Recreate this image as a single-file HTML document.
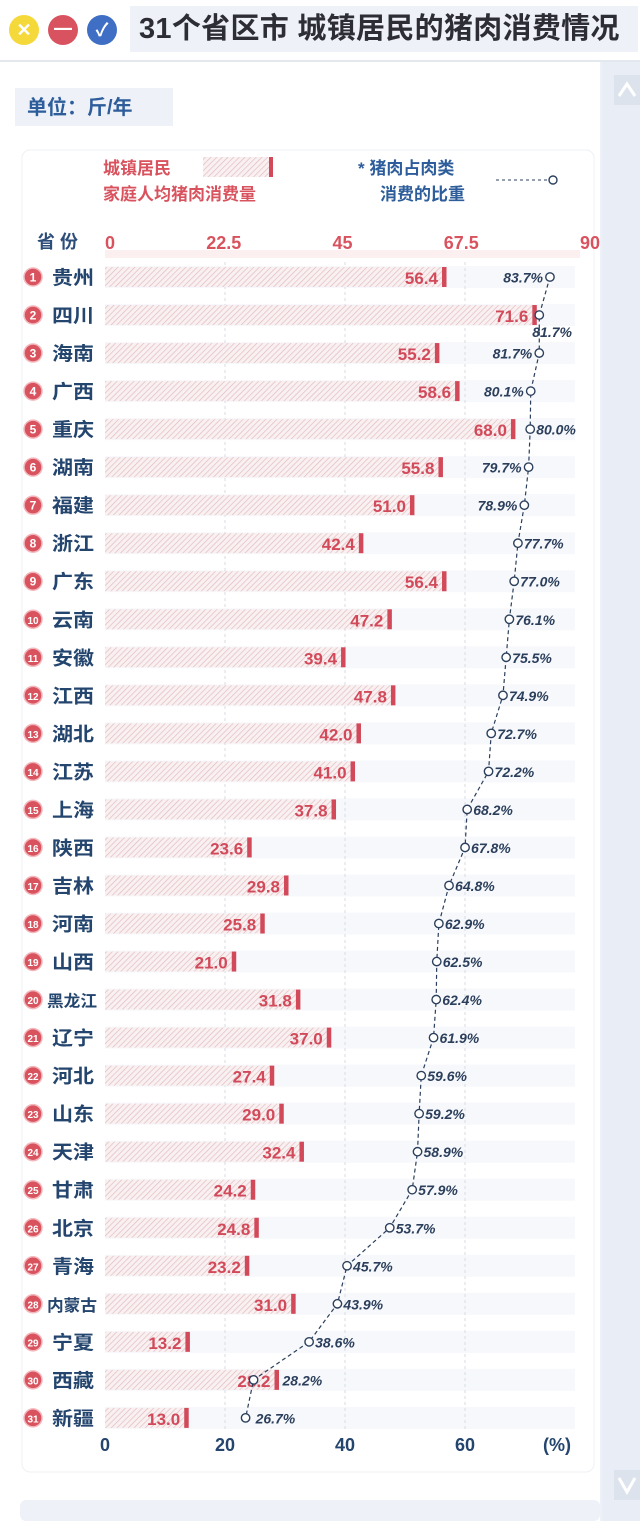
<!DOCTYPE html>
<html><head><meta charset="utf-8">
<style>
body{margin:0;width:640px;height:1521px;background:#eef2f8;font-family:"Liberation Sans","Noto Sans CJK SC",sans-serif;overflow:hidden;position:relative}
#title{position:absolute;left:0;top:0;width:640px;height:60px;background:#fff;border-bottom:2px solid #e3e7ee}
#title .t{position:absolute;left:130px;top:6px;width:508px;height:46px;background:#eef2f8;font-size:29px;font-weight:bold;color:#2d2d35;line-height:46px;padding-left:9px;box-sizing:border-box;letter-spacing:0.3px;white-space:nowrap}
.btn{position:absolute;top:15px;width:30px;height:30px;border-radius:50%;color:#fff;font-weight:bold;text-align:center;line-height:30px;font-size:18px}
#main{position:absolute;left:0;top:62px;width:600px;height:1459px;background:#fff}
#scroll{position:absolute;left:602px;top:62px;width:38px;height:1459px;background:#e9eef6}
svg{position:absolute;left:0;top:0}
</style></head><body>
<div id="title">
<div class="btn" style="left:9px;background:#f5d83a">✕</div>
<div class="btn" style="left:48px;background:#d8535f">━</div>
<div class="btn" style="left:87px;background:#3f6fc4">✓</div>
<div class="t">31个省区市 城镇居民的猪肉消费情况</div>
</div>
<div id="main"></div>
<div id="scroll"></div>
<svg id="chart" width="640" height="1521"></svg>
<script>
const provinces=["贵州","四川","海南","广西","重庆","湖南","福建","浙江","广东","云南","安徽","江西","湖北","江苏","上海","陕西","吉林","河南","山西","黑龙江","辽宁","河北","山东","天津","甘肃","北京","青海","内蒙古","宁夏","西藏","新疆"];
const consumption=[56.4,71.6,55.2,58.6,68.0,55.8,51.0,42.4,56.4,47.2,39.4,47.8,42.0,41.0,37.8,23.6,29.8,25.8,21.0,31.8,37.0,27.4,29.0,32.4,24.2,24.8,23.2,31.0,13.2,28.2,13.0];
const share=[83.7,81.7,81.7,80.1,80.0,79.7,78.9,77.7,77.0,76.1,75.5,74.9,72.7,72.2,68.2,67.8,64.8,62.9,62.5,62.4,61.9,59.6,59.2,58.9,57.9,53.7,45.7,43.9,38.6,28.2,26.7];
const topTicks=[0,22.5,45,67.5,90];
const bottomTicks=[0,20,40,60];
const NS="http://www.w3.org/2000/svg";
const svg=document.getElementById('chart');
function mk(t,a,p){const e=document.createElementNS(NS,t);for(const k in a)e.setAttribute(k,a[k]);(p||svg).appendChild(e);return e;}
const xv=v=>109+5.94*v;
const xp=p=>103+5.34*p;
const xt=v=>105+v*(475/90);
const xb=v=>105+v*6;
const rowY=i=>277+i*38.03;
const defs=mk('defs',{});
const pat=mk('pattern',{id:'hatch',width:4,height:4,patternUnits:'userSpaceOnUse',patternTransform:'rotate(45)'},defs);
mk('rect',{width:4,height:4,fill:'#f8f0f1'},pat);
mk('line',{x1:0,y1:0,x2:0,y2:4,stroke:'#e2b9bd','stroke-width':1.3},pat);
let e=mk('rect',{x:22,y:150,width:572,height:1322,rx:8,fill:'#fff',stroke:'#eef0f4'});

e=mk('rect',{x:15,y:88,width:158,height:38,fill:'#eef2f8'});
e=mk('text',{x:27,y:114,'font-size':20,'font-weight':'bold',fill:'#2d5d9a'});e.textContent='单位：斤/年';

e=mk('text',{x:103,y:174,'font-size':17,'font-weight':'bold',fill:'#d9535f'});e.textContent='城镇居民';

e=mk('text',{x:103,y:200,'font-size':17,'font-weight':'bold',fill:'#d9535f'});e.textContent='家庭人均猪肉消费量';
mk('rect',{x:203,y:157,width:66,height:20,fill:'url(#hatch)'});
mk('rect',{x:269,y:157,width:4,height:20,fill:'#d24a5a'});
e=mk('text',{x:358,y:174,'font-size':17,'font-weight':'bold',fill:'#2d5d9a'});e.textContent='* 猪肉占肉类';

e=mk('text',{x:380,y:200,'font-size':17,'font-weight':'bold',fill:'#2d5d9a'});e.textContent='消费的比重';
mk('line',{x1:496,y1:180,x2:548,y2:180,stroke:'#2b3f5c','stroke-dasharray':'3,3'});
mk('circle',{cx:553,cy:180,r:4,fill:'#fff',stroke:'#2b3f5c','stroke-width':1.4});
mk('rect',{x:105,y:250,width:475,height:8,fill:'#fcefef'});
e=mk('text',{x:37,y:248,'font-size':18,'font-weight':'bold',fill:'#2d4d7a'});e.textContent='省 份';

topTicks.forEach((t,i)=>{const x=xt(t);const el=mk('text',{x:i==topTicks.length-1?x+10:x,y:249,'font-size':18,'font-weight':'bold',fill:'#d9535f','text-anchor':i==0?'start':'middle'});el.textContent=String(t);
});
provinces.forEach((p,i)=>{const y=rowY(i);
 const g=mk('g',{});
 mk('rect',{x:105,y:y-11,width:470,height:22,fill:'#f7f8fb'},g);
});
bottomTicks.slice(1).forEach(t=>{mk('line',{x1:xb(t),y1:262,x2:xb(t),y2:1432,stroke:'#d7dbe3','stroke-dasharray':'3,3'});});
provinces.forEach((p,i)=>{const y=rowY(i);
 const c=mk('circle',{cx:33,cy:y,r:9,fill:'#d9535f',stroke:'#f2b8bd','stroke-width':1.5});
 
 let t=mk('text',{x:33,y:y+4.5,'font-size':i>=9?10:12,'font-weight':'bold',fill:'#fff','text-anchor':'middle'});t.textContent=String(i+1);
 t=mk('text',{x:p.length>2?47:52,y:y+7,'font-size':p.length>2?16:19,'font-weight':'bold',fill:'#24456e',textLength:p.length>2?50:42,lengthAdjust:'spacingAndGlyphs'});t.textContent=p;
 
 const v=consumption[i];const x=xv(v);
 const b=mk('rect',{x:105,y:y-10,width:x-2-105,height:20,fill:'url(#hatch)'});
 
 const tk=mk('rect',{x:x-2,y:y-10,width:4.5,height:20,fill:'#d24a5a'});
 
 t=mk('text',{x:x-6,y:y+7,'font-size':17,'font-weight':'bold',fill:'#d24a5a','text-anchor':'end'});t.textContent=v.toFixed(1);
 
});
const pts=share.map((s,i)=>xp(s)+','+rowY(i)).join(' ');
e=mk('polyline',{points:pts,fill:'none',stroke:'#2b3f5c','stroke-width':1.2,'stroke-dasharray':'4,3'});

const leftIdx=[0,2,3,5,6];
share.forEach((s,i)=>{const y=rowY(i),x=xp(s);
 const c=mk('circle',{cx:x,cy:y,r:4.2,fill:'#fff',stroke:'#2b3f5c','stroke-width':1.4});
 
 let tx,ty=y+5.5,anc='start';
 if(leftIdx.includes(i)){tx=x-7;anc='end';}
 else if(i==1){tx=x-7;ty=y+22;}
 else if(i==29){tx=xv(consumption[i])+6;}
 else if(i==30){tx=x+10;}
 else tx=x+6;
 const t=mk('text',{x:tx,y:ty,'font-size':14,'font-weight':'bold','font-style':'italic',fill:'#2b3f5c','text-anchor':anc});t.textContent=s.toFixed(1)+'%';
 
});
bottomTicks.forEach(t=>{const el=mk('text',{x:xb(t),y:1451,'font-size':18,'font-weight':'bold',fill:'#24456e','text-anchor':'middle'});el.textContent=String(t);
 });
e=mk('text',{x:557,y:1451,'font-size':18,'font-weight':'bold',fill:'#24456e','text-anchor':'middle'});e.textContent='(%)';

mk('rect',{x:614,y:75,width:26,height:30,fill:'#dde3ec'});
mk('path',{d:'M619 96 L627 84 L635 96',fill:'none',stroke:'#fff','stroke-width':3});
mk('rect',{x:614,y:1470,width:26,height:30,fill:'#dde3ec'});
mk('path',{d:'M619 1478 L627 1492 L635 1478',fill:'none',stroke:'#fff','stroke-width':3});
mk('rect',{x:20,y:1500,width:580,height:21,rx:6,fill:'#eef2f8'});
</script>
</body></html>
